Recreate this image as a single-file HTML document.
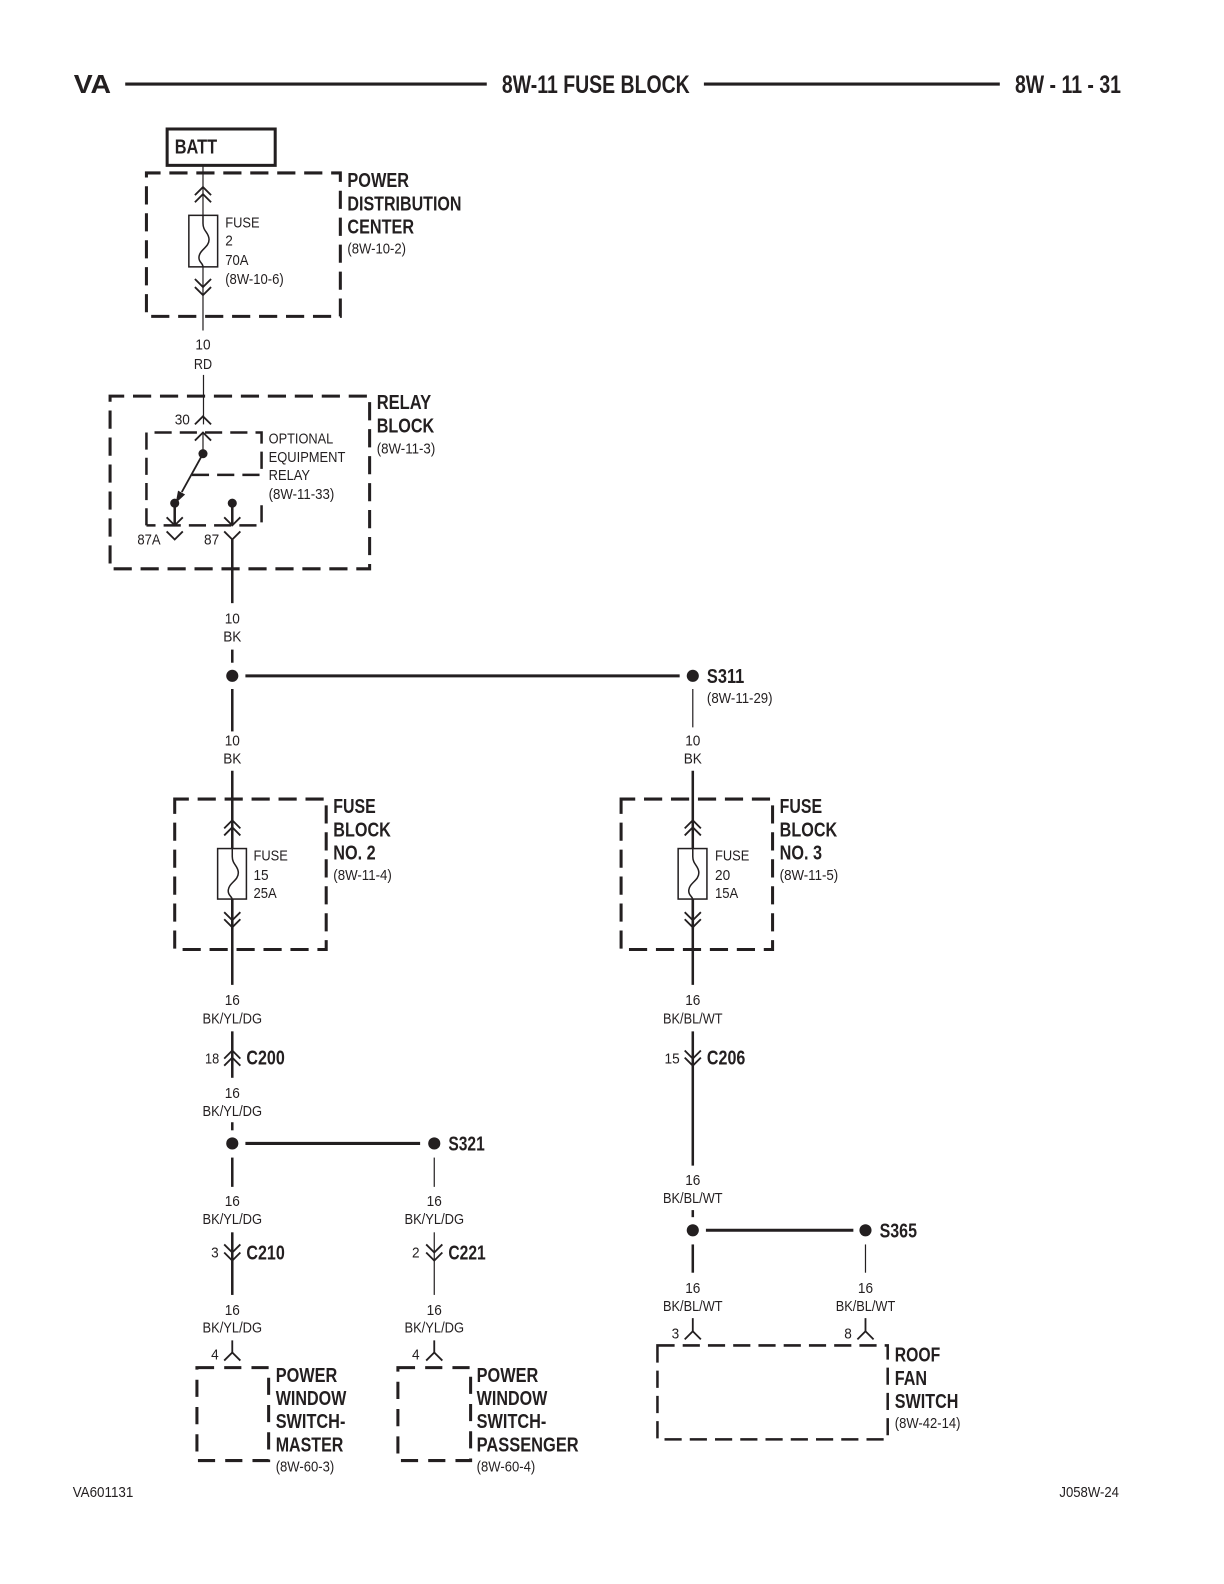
<!DOCTYPE html>
<html><head><meta charset="utf-8"><style>
html,body{margin:0;padding:0;background:#fff}
svg{display:block}
text{font-family:"Liberation Sans",sans-serif;fill:#231f20}
.r{font-size:15px}
.b{font-size:20px;font-weight:bold}
.c{font-size:15px;text-anchor:middle}
.h{font-size:25px;font-weight:bold}
.w,.t,.d,.d2,.f,.k{fill:none;stroke:#231f20}
.w{stroke-width:2.5}
.t{stroke-width:1.2}
.k{stroke-width:1.8}
.d{stroke-width:3;stroke-dasharray:18 8.7;stroke-dashoffset:4}
.d2{stroke-width:2.5;stroke-dasharray:17 8}
.f{stroke-width:1.5}
</style></head><body>
<svg width="1224" height="1584" viewBox="0 0 1212 1568" xmlns="http://www.w3.org/2000/svg">
<defs>
<path id="u" d="M-8,8L0,0L8,8" class="k"/>
<path id="n" d="M-8,-8L0,0L8,-8" class="k"/>
<path id="fz" d="M0,0V8C0,16 6,17 6,24C6,32 -4,34 -4,42C-4,47 0,47 0,51" class="f"/>
<circle id="o" r="6" fill="#231f20"/>
</defs>

<!-- header -->
<text x="73" y="92" class="h" textLength="37" lengthAdjust="spacingAndGlyphs" style="font-size:26px">VA</text>
<path d="M124,83H482M697,83H990" fill="none" stroke="#231f20" stroke-width="3"/>
<text x="497" y="92" class="h" textLength="186" lengthAdjust="spacingAndGlyphs">8W-11 FUSE BLOCK</text>
<text x="1005" y="92" class="h" textLength="105" lengthAdjust="spacingAndGlyphs">8W - 11 - 31</text>

<!-- BATT / PDC -->
<rect x="165.500" y="127.500" width="107" height="36" fill="none" stroke="#231f20" stroke-width="3"/>
<text x="173" y="152" class="b" textLength="42" lengthAdjust="spacingAndGlyphs">BATT</text>
<rect x="145" y="171" width="192" height="142" class="d"/>
<path d="M201,164V327" class="t"/>
<use href="#u" x="201" y="185"/><use href="#u" x="201" y="192"/>
<rect x="187" y="213" width="28.500" height="51" fill="#fff" stroke="#231f20" stroke-width="1.500"/>
<use href="#fz" x="201" y="213"/>
<use href="#n" x="201" y="284"/><use href="#n" x="201" y="292"/>
<text x="223" y="225" class="r" textLength="34" lengthAdjust="spacingAndGlyphs">FUSE</text>
<text x="223" y="243" class="r" textLength="7.500" lengthAdjust="spacingAndGlyphs">2</text>
<text x="223" y="262" class="r" textLength="23" lengthAdjust="spacingAndGlyphs">70A</text>
<text x="223" y="281" class="r" textLength="58" lengthAdjust="spacingAndGlyphs">(8W-10-6)</text>
<text x="344" y="185" class="b" textLength="61" lengthAdjust="spacingAndGlyphs">POWER</text>
<text x="344" y="208" class="b" textLength="113" lengthAdjust="spacingAndGlyphs">DISTRIBUTION</text>
<text x="344" y="231" class="b" textLength="66" lengthAdjust="spacingAndGlyphs">CENTER</text>
<text x="344" y="251" class="r" textLength="58" lengthAdjust="spacingAndGlyphs">(8W-10-2)</text>
<text x="201" y="346" class="c" textLength="15" lengthAdjust="spacingAndGlyphs">10</text>
<text x="201" y="365" class="c" textLength="18" lengthAdjust="spacingAndGlyphs">RD</text>

<!-- relay block -->
<path d="M201.500,371V420" class="t"/>
<rect x="109" y="392" width="257" height="171" class="d"/>
<use href="#u" x="201" y="412"/>
<text x="173" y="420" class="r" textLength="15" lengthAdjust="spacingAndGlyphs">30</text>
<path d="M145,520V428H259V470H190M259,500V520H145" class="d2"/>
<use href="#u" x="201" y="428"/>
<path d="M201,428V449" class="t"/>
<circle cx="201" cy="449" r="4.500" fill="#231f20"/>
<path d="M201,449L180,487" class="k"/>
<path d="M174,498L176.300,485.600L183.300,489.400Z" fill="#231f20"/>
<circle cx="173" cy="498" r="4.500" fill="#231f20"/>
<circle cx="230" cy="498" r="4.500" fill="#231f20"/>
<path d="M173,498V520M230,498V520" class="w"/>
<use href="#n" x="173" y="520"/><use href="#n" x="230" y="520"/>
<use href="#n" x="173" y="534"/><use href="#n" x="230" y="534"/>
<path d="M230,534V597" class="w"/>
<text x="136" y="539" class="r" textLength="23" lengthAdjust="spacingAndGlyphs">87A</text>
<text x="202" y="539" class="r" textLength="15" lengthAdjust="spacingAndGlyphs">87</text>
<text x="266" y="439" class="r" textLength="64" lengthAdjust="spacingAndGlyphs">OPTIONAL</text>
<text x="266" y="457" class="r" textLength="76" lengthAdjust="spacingAndGlyphs">EQUIPMENT</text>
<text x="266" y="475" class="r" textLength="41" lengthAdjust="spacingAndGlyphs">RELAY</text>
<text x="266" y="494" class="r" textLength="65" lengthAdjust="spacingAndGlyphs">(8W-11-33)</text>
<text x="373" y="405" class="b" textLength="54" lengthAdjust="spacingAndGlyphs">RELAY</text>
<text x="373" y="428" class="b" textLength="57" lengthAdjust="spacingAndGlyphs">BLOCK</text>
<text x="373" y="449" class="r" textLength="58" lengthAdjust="spacingAndGlyphs">(8W-11-3)</text>

<text x="230" y="617" class="c" textLength="15" lengthAdjust="spacingAndGlyphs">10</text>
<text x="230" y="635" class="c" textLength="18" lengthAdjust="spacingAndGlyphs">BK</text>
<path d="M230,643V656" class="w"/>
<use href="#o" x="230" y="669"/>
<path d="M243,669H673" fill="none" stroke="#231f20" stroke-width="3"/>
<use href="#o" x="686" y="669"/>
<text x="700" y="676" class="b" textLength="37" lengthAdjust="spacingAndGlyphs">S311</text>
<text x="700" y="696" class="r" textLength="65" lengthAdjust="spacingAndGlyphs">(8W-11-29)</text>
<path d="M230,682V724" class="w"/>
<path d="M686,682V720" class="t"/>
<text x="230" y="738" class="c" textLength="15" lengthAdjust="spacingAndGlyphs">10</text>
<text x="230" y="756" class="c" textLength="18" lengthAdjust="spacingAndGlyphs">BK</text>
<text x="686" y="738" class="c" textLength="15" lengthAdjust="spacingAndGlyphs">10</text>
<text x="686" y="756" class="c" textLength="18" lengthAdjust="spacingAndGlyphs">BK</text>

<!-- fuse block 2 -->
<rect x="173" y="791" width="150" height="149" class="d"/>
<path d="M230,763V975" class="w"/>
<use href="#u" x="230" y="812"/><use href="#u" x="230" y="819"/>
<rect x="215.500" y="840" width="28.500" height="50" fill="#fff" stroke="#231f20" stroke-width="1.500"/>
<use href="#fz" x="230" y="840"/>
<path d="M230,890V920" class="w"/>
<use href="#n" x="230" y="911"/><use href="#n" x="230" y="918"/>
<text x="251" y="852" class="r" textLength="34" lengthAdjust="spacingAndGlyphs">FUSE</text>
<text x="251" y="871" class="r" textLength="15" lengthAdjust="spacingAndGlyphs">15</text>
<text x="251" y="889" class="r" textLength="23" lengthAdjust="spacingAndGlyphs">25A</text>
<text x="330" y="805" class="b" textLength="42" lengthAdjust="spacingAndGlyphs">FUSE</text>
<text x="330" y="828" class="b" textLength="57" lengthAdjust="spacingAndGlyphs">BLOCK</text>
<text x="330" y="851" class="b" textLength="42" lengthAdjust="spacingAndGlyphs">NO. 2</text>
<text x="330" y="871" class="r" textLength="58" lengthAdjust="spacingAndGlyphs">(8W-11-4)</text>

<!-- fuse block 3 -->
<rect x="615" y="791" width="150" height="149" class="d"/>
<path d="M686,763V975" class="w"/>
<use href="#u" x="686" y="812"/><use href="#u" x="686" y="819"/>
<rect x="671.500" y="840" width="28.500" height="50" fill="#fff" stroke="#231f20" stroke-width="1.500"/>
<use href="#fz" x="686" y="840"/>
<path d="M686,890V920" class="w"/>
<use href="#n" x="686" y="911"/><use href="#n" x="686" y="918"/>
<text x="708" y="852" class="r" textLength="34" lengthAdjust="spacingAndGlyphs">FUSE</text>
<text x="708" y="871" class="r" textLength="15" lengthAdjust="spacingAndGlyphs">20</text>
<text x="708" y="889" class="r" textLength="23" lengthAdjust="spacingAndGlyphs">15A</text>
<text x="772" y="805" class="b" textLength="42" lengthAdjust="spacingAndGlyphs">FUSE</text>
<text x="772" y="828" class="b" textLength="57" lengthAdjust="spacingAndGlyphs">BLOCK</text>
<text x="772" y="851" class="b" textLength="42" lengthAdjust="spacingAndGlyphs">NO. 3</text>
<text x="772" y="871" class="r" textLength="58" lengthAdjust="spacingAndGlyphs">(8W-11-5)</text>

<!-- left lower -->
<text x="230" y="995" class="c" textLength="15" lengthAdjust="spacingAndGlyphs">16</text>
<text x="230" y="1013" class="c" textLength="59" lengthAdjust="spacingAndGlyphs">BK/YL/DG</text>
<path d="M230,1021V1067" class="w"/>
<use href="#u" x="230" y="1040"/><use href="#u" x="230" y="1047"/>
<text x="203" y="1053" class="r" textLength="14" lengthAdjust="spacingAndGlyphs">18</text>
<text x="244" y="1054" class="b" textLength="38" lengthAdjust="spacingAndGlyphs">C200</text>
<text x="230" y="1087" class="c" textLength="15" lengthAdjust="spacingAndGlyphs">16</text>
<text x="230" y="1105" class="c" textLength="59" lengthAdjust="spacingAndGlyphs">BK/YL/DG</text>
<path d="M230,1111V1119" class="w"/>
<use href="#o" x="230" y="1132"/>
<path d="M243,1132H416" fill="none" stroke="#231f20" stroke-width="3"/>
<use href="#o" x="430" y="1132"/>
<text x="444" y="1139" class="b" textLength="36" lengthAdjust="spacingAndGlyphs">S321</text>
<path d="M230,1146V1175" class="w"/>
<path d="M430,1146V1175" class="t"/>
<text x="230" y="1194" class="c" textLength="15" lengthAdjust="spacingAndGlyphs">16</text>
<text x="230" y="1212" class="c" textLength="59" lengthAdjust="spacingAndGlyphs">BK/YL/DG</text>
<text x="430" y="1194" class="c" textLength="15" lengthAdjust="spacingAndGlyphs">16</text>
<text x="430" y="1212" class="c" textLength="59" lengthAdjust="spacingAndGlyphs">BK/YL/DG</text>
<path d="M230,1220V1282" class="w"/>
<path d="M430,1220V1282" class="t"/>
<use href="#n" x="230" y="1240"/><use href="#n" x="230" y="1248"/>
<use href="#n" x="430" y="1240"/><use href="#n" x="430" y="1248"/>
<text x="209" y="1245" class="r" textLength="7.500" lengthAdjust="spacingAndGlyphs">3</text>
<text x="408" y="1245" class="r" textLength="7.500" lengthAdjust="spacingAndGlyphs">2</text>
<text x="244" y="1247" class="b" textLength="38" lengthAdjust="spacingAndGlyphs">C210</text>
<text x="444" y="1247" class="b" textLength="37" lengthAdjust="spacingAndGlyphs">C221</text>
<text x="230" y="1302" class="c" textLength="15" lengthAdjust="spacingAndGlyphs">16</text>
<text x="230" y="1319" class="c" textLength="59" lengthAdjust="spacingAndGlyphs">BK/YL/DG</text>
<text x="430" y="1302" class="c" textLength="15" lengthAdjust="spacingAndGlyphs">16</text>
<text x="430" y="1319" class="c" textLength="59" lengthAdjust="spacingAndGlyphs">BK/YL/DG</text>
<path d="M230,1327V1339M430,1327V1339" class="k"/>
<use href="#u" x="230" y="1339"/><use href="#u" x="430" y="1339"/>
<text x="209" y="1346" class="r" textLength="7.500" lengthAdjust="spacingAndGlyphs">4</text>
<text x="408" y="1346" class="r" textLength="7.500" lengthAdjust="spacingAndGlyphs">4</text>
<rect x="195" y="1354" width="71" height="92" class="d" style="stroke-dasharray:17 10;stroke-dashoffset:0"/>
<rect x="394" y="1354" width="72" height="92" class="d" style="stroke-dasharray:17 10;stroke-dashoffset:0"/>
<text x="273" y="1368" class="b" textLength="61" lengthAdjust="spacingAndGlyphs">POWER</text>
<text x="273" y="1391" class="b" textLength="70" lengthAdjust="spacingAndGlyphs">WINDOW</text>
<text x="273" y="1414" class="b" textLength="69" lengthAdjust="spacingAndGlyphs">SWITCH-</text>
<text x="273" y="1437" class="b" textLength="67" lengthAdjust="spacingAndGlyphs">MASTER</text>
<text x="273" y="1457" class="r" textLength="58" lengthAdjust="spacingAndGlyphs">(8W-60-3)</text>
<text x="472" y="1368" class="b" textLength="61" lengthAdjust="spacingAndGlyphs">POWER</text>
<text x="472" y="1391" class="b" textLength="70" lengthAdjust="spacingAndGlyphs">WINDOW</text>
<text x="472" y="1414" class="b" textLength="69" lengthAdjust="spacingAndGlyphs">SWITCH-</text>
<text x="472" y="1437" class="b" textLength="101" lengthAdjust="spacingAndGlyphs">PASSENGER</text>
<text x="472" y="1457" class="r" textLength="58" lengthAdjust="spacingAndGlyphs">(8W-60-4)</text>

<!-- right lower -->
<text x="686" y="995" class="c" textLength="15" lengthAdjust="spacingAndGlyphs">16</text>
<text x="686" y="1013" class="c" textLength="59" lengthAdjust="spacingAndGlyphs">BK/BL/WT</text>
<path d="M686,1021V1154" class="w"/>
<use href="#n" x="686" y="1048"/><use href="#n" x="686" y="1055"/>
<text x="658" y="1053" class="r" textLength="15" lengthAdjust="spacingAndGlyphs">15</text>
<text x="700" y="1054" class="b" textLength="38" lengthAdjust="spacingAndGlyphs">C206</text>
<text x="686" y="1173" class="c" textLength="15" lengthAdjust="spacingAndGlyphs">16</text>
<text x="686" y="1191" class="c" textLength="59" lengthAdjust="spacingAndGlyphs">BK/BL/WT</text>
<path d="M686,1198V1205" class="w"/>
<use href="#o" x="686" y="1218"/>
<path d="M699,1218H845" fill="none" stroke="#231f20" stroke-width="3"/>
<use href="#o" x="857" y="1218"/>
<text x="871" y="1225" class="b" textLength="37" lengthAdjust="spacingAndGlyphs">S365</text>
<path d="M686,1232V1260" class="w"/>
<path d="M857,1232V1260" class="t"/>
<text x="686" y="1280" class="c" textLength="15" lengthAdjust="spacingAndGlyphs">16</text>
<text x="686" y="1298" class="c" textLength="59" lengthAdjust="spacingAndGlyphs">BK/BL/WT</text>
<text x="857" y="1280" class="c" textLength="15" lengthAdjust="spacingAndGlyphs">16</text>
<text x="857" y="1298" class="c" textLength="59" lengthAdjust="spacingAndGlyphs">BK/BL/WT</text>
<path d="M686,1305V1318M857,1305V1318" class="k"/>
<use href="#u" x="686" y="1318"/><use href="#u" x="857" y="1318"/>
<text x="665" y="1325" class="r" textLength="7.500" lengthAdjust="spacingAndGlyphs">3</text>
<text x="836" y="1325" class="r" textLength="7.500" lengthAdjust="spacingAndGlyphs">8</text>
<rect x="651" y="1332" width="228" height="93" class="d2"/>
<text x="886" y="1348" class="b" textLength="45" lengthAdjust="spacingAndGlyphs">ROOF</text>
<text x="886" y="1371" class="b" textLength="32" lengthAdjust="spacingAndGlyphs">FAN</text>
<text x="886" y="1394" class="b" textLength="63" lengthAdjust="spacingAndGlyphs">SWITCH</text>
<text x="886" y="1414" class="r" textLength="65" lengthAdjust="spacingAndGlyphs">(8W-42-14)</text>

<!-- footer -->
<text x="72" y="1482" class="r" textLength="60" lengthAdjust="spacingAndGlyphs">VA601131</text>
<text x="1049" y="1482" class="r" textLength="59" lengthAdjust="spacingAndGlyphs">J058W-24</text>
</svg>
</body></html>
